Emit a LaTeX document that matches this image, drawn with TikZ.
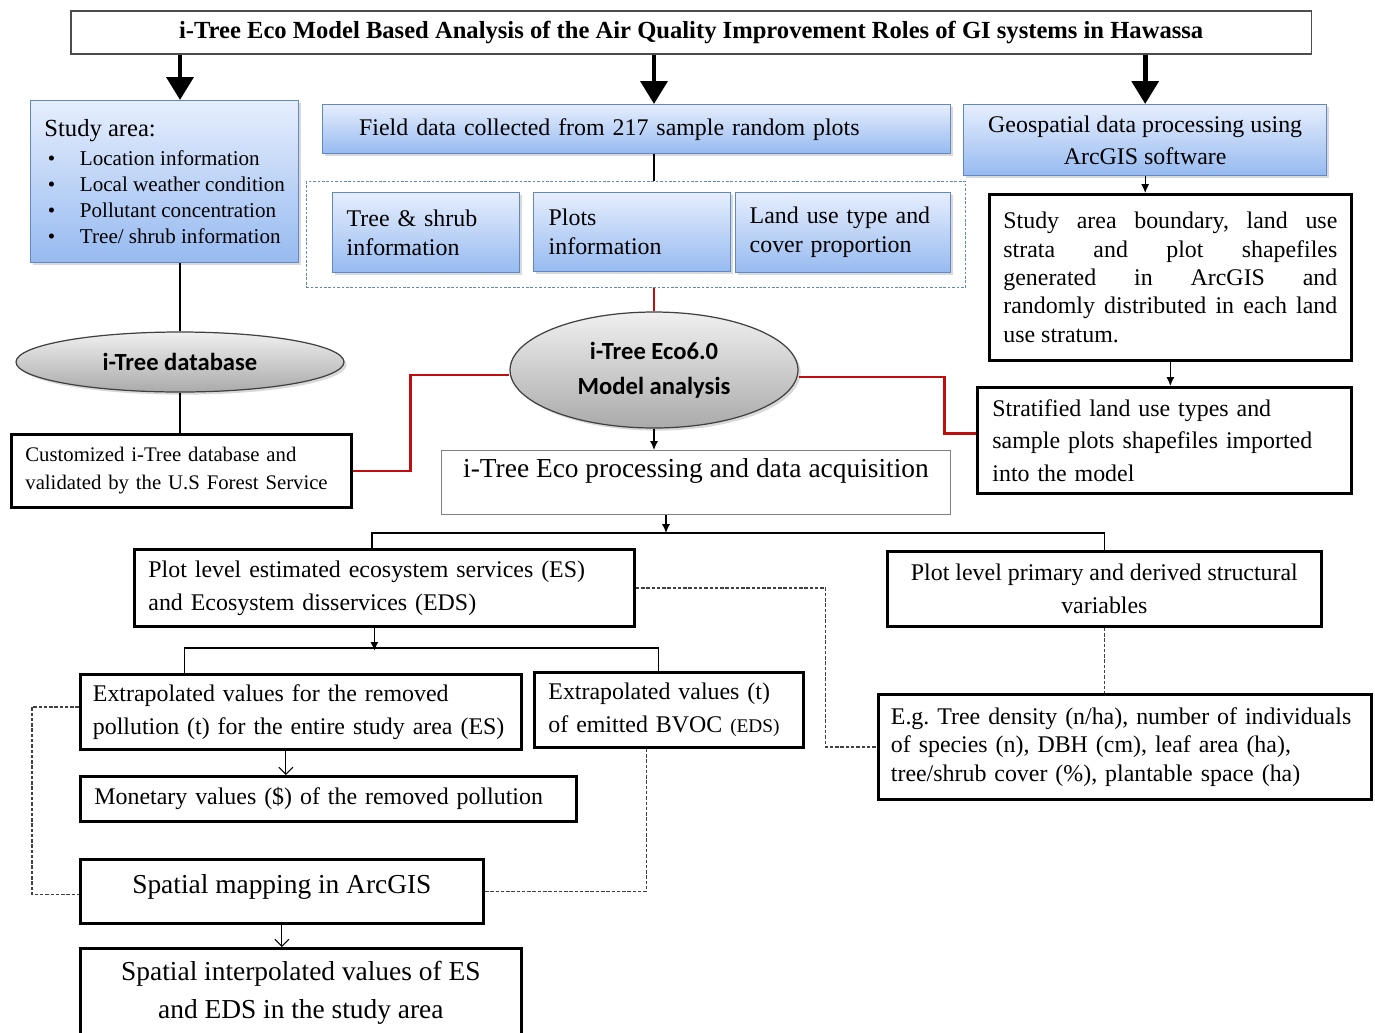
\documentclass[tikz,border=0pt]{standalone}
\usepackage{fontspec}
\setmainfont{Liberation Serif}
\newfontfamily\calibri{Carlito}
\usepackage{tikz}
\usetikzlibrary{arrows.meta,shapes.geometric,shadows}
\tikzset{>=latex}
\frenchspacing
\definecolor{bluetop}{RGB}{230,238,253}
\definecolor{bluebot}{RGB}{150,186,240}
\definecolor{blueedge}{RGB}{96,136,196}
\definecolor{greytop}{RGB}{240,240,240}
\definecolor{greybot}{RGB}{170,170,170}
\definecolor{linkred}{RGB}{190,14,14}
\tikzset{
  bluebox/.style={draw=blueedge, line width=0.8pt, top color=bluetop, bottom color=bluebot,
    drop shadow={shadow xshift=1.5pt, shadow yshift=-1.5pt, opacity=0.3}, anchor=north west},
  blackbox/.style={draw, line width=1.6pt, fill=white, anchor=north west},
  thinbox/.style={draw=black!50, line width=0.6pt, anchor=north west},
  greyell/.style={ellipse, draw=black!75, line width=0.7pt, top color=greytop, bottom color=greybot,
    drop shadow={shadow xshift=1.5pt, shadow yshift=-1.5pt, opacity=0.3},
    font=\calibri\bfseries\fontsize{14}{20}\selectfont, align=center},
  bigarrow/.style={line width=2.8pt, -{Triangle[length=13pt,width=15pt]}},
  thinarrow/.style={line width=0.7pt, -{Latex[length=5pt,width=4.5pt]}},
  openarrow/.style={line width=0.6pt, -{Straight Barb[length=4pt,width=8pt]}},
  redlink/.style={draw=linkred, line width=1.6pt},
  dashlink/.style={draw=black!75, line width=0.7pt, dash pattern=on 2pt off 1pt},
  txt/.style={font=\fontsize{13.6}{#1}\selectfont},
  txt/.default=16.5
}

\begin{document}
\begin{tikzpicture}[x=0.02cm, y=-0.02cm]
  \useasboundingbox (0,0) rectangle (1375,1032);

  % Nodes
  \node[draw=black!70, line width=0.9pt, anchor=north west, minimum width=24.82cm, minimum height=0.86cm,
    font=\bfseries\fontsize{14}{17}\selectfont] (title) at (70,10)
    {i-Tree Eco Model Based Analysis of the Air Quality Improvement Roles of GI systems in Hawassa};

  \node[bluebox, minimum width=5.36cm, minimum height=3.24cm, align=left,
    font=\fontsize{12}{14.8}\selectfont] (sa) at (30,100)
    {{\fontsize{14}{17}\selectfont Study area:}\\[2pt]
     \hspace*{2pt}\textbullet\hspace{14pt}Location information\\
     \hspace*{2pt}\textbullet\hspace{14pt}Local weather condition\\
     \hspace*{2pt}\textbullet\hspace{14pt}Pollutant concentration\\
     \hspace*{2pt}\textbullet\hspace{14pt}Tree/ shrub information};
  \node[bluebox, minimum width=12.56cm, minimum height=0.98cm, inner xsep=0.72cm, text width=11.1cm,
    align=left, txt] (field) at (322,104) {Field data collected from 217 sample random plots};
  \node[bluebox, minimum width=7.26cm, minimum height=1.42cm, align=center, txt=18] (geo) at (963,104)
    {Geospatial data processing using\\ArcGIS software};

  \node[draw=blueedge, line width=0.5pt, dash pattern=on 1.5pt off 1pt, anchor=north west,
    minimum width=13.18cm, minimum height=2.12cm] (cont) at (306,181) {};
  \node[bluebox, minimum width=3.74cm, minimum height=1.6cm, inner xsep=0.28cm, text width=3.18cm,
    align=left, txt] (tree) at (332,192) {Tree \& shrub\\information};
  \node[bluebox, minimum width=3.94cm, minimum height=1.58cm, inner xsep=0.3cm, text width=3.34cm,
    align=left, txt] (plots) at (533,192) {Plots\\information};
  \node[bluebox, minimum width=4.3cm, minimum height=1.6cm, inner xsep=0.28cm, text width=3.74cm,
    align=left, txt] (land) at (735,192) {Land use type and\\cover proportion};

  \node[greyell, minimum width=6.56cm, minimum height=1.2cm] (dbase) at (180,362) {i-Tree database};
  \node[greyell, minimum width=5.76cm, minimum height=2.32cm] (eco) at (654,370)
    {i-Tree Eco6.0\\Model analysis};

  \node[blackbox, minimum width=6.8cm, minimum height=1.46cm, inner xsep=0.28cm, text width=6.24cm,
    align=left, font=\fontsize{11.8}{16}\selectfont] (cust) at (10,433)
    {Customized i-Tree database and\\validated by the U.S Forest Service};

  \node[blackbox, minimum width=7.24cm, minimum height=3.32cm, inner xsep=0.28cm, text width=6.68cm,
    align=justify, txt=16.2] (bnd) at (988,193)
    {Study area boundary, land use\linebreak strata and plot shapefiles\linebreak
     generated in ArcGIS and\linebreak randomly distributed in each land\linebreak use stratum.};
  \node[blackbox, minimum width=7.48cm, minimum height=2.12cm, inner xsep=0.3cm, text width=6.88cm,
    align=left, txt=18.5] (strat) at (976,386)
    {Stratified land use types and\\sample plots shapefiles imported\\into the model};

  \node[thinbox, minimum width=10.18cm, minimum height=1.28cm, text depth=0.6cm,
    font=\fontsize{15.6}{19}\selectfont] (proc) at (441,450) {i-Tree Eco processing and data acquisition};

  \node[blackbox, minimum width=10cm, minimum height=1.54cm, inner xsep=0.28cm, text width=9.44cm,
    align=left, txt=18.8] (es) at (133,548)
    {Plot level estimated ecosystem services (ES)\\and Ecosystem disservices (EDS)};
  \node[blackbox, minimum width=8.68cm, minimum height=1.5cm, align=center, txt=18.8] (prim) at (886,550)
    {Plot level primary and derived structural\\variables};
  \node[blackbox, minimum width=9.86cm, minimum height=2.1cm, inner xsep=0.25cm, text width=9.36cm,
    align=left, txt=16.2] (eg) at (877,693)
    {E.g. Tree density (n/ha), number of individuals\\of species (n), DBH (cm), leaf area (ha),\\
     tree/shrub cover (\%), plantable space (ha)};

  \node[blackbox, minimum width=8.82cm, minimum height=1.5cm, inner xsep=0.25cm, text width=8.32cm,
    align=left, txt=18.8] (exes) at (79,673)
    {Extrapolated values for the removed\\pollution (t) for the entire study area (ES)};
  \node[blackbox, minimum width=5.38cm, minimum height=1.5cm, inner xsep=0.28cm, text width=4.82cm,
    align=left, txt=18.8] (exeds) at (533,671)
    {Extrapolated values (t)\\of emitted BVOC {\fontsize{11}{13}\selectfont (EDS)}};
  \node[blackbox, minimum width=9.92cm, minimum height=0.9cm, inner xsep=0.28cm, text width=9.36cm,
    align=left, txt] (mon) at (79,775) {Monetary values (\$) of the removed pollution};
  \node[blackbox, minimum width=8.06cm, minimum height=1.28cm, text depth=0.3cm,
    font=\fontsize{15.6}{19}\selectfont] (spmap) at (79,858) {Spatial mapping in ArcGIS};
  \node[blackbox, minimum width=8.82cm, minimum height=1.78cm, align=center,
    font=\fontsize{15.6}{21.6}\selectfont] (interp) at (79,947)
    {Spatial interpolated values of ES\\and EDS in the study area};

  % Edges
  \draw[bigarrow] (title.south -| dbase) -- (dbase |- sa.north);
  \draw[bigarrow] (title.south -| eco) -- (eco |- field.north);
  \draw[bigarrow] (title.south -| geo) -- (geo.north);

  \draw[line width=1.4pt] (eco |- field.south) -- (eco |- cont.north);
  \draw[redlink] (eco |- cont.south) -- (eco.north);
  \draw[line width=1pt] (dbase |- sa.south) -- (dbase.north);
  \draw[line width=1pt] (dbase.south) -- (dbase.south |- cust.north);
  \draw[redlink] (cust.east) -- ++(58,0) |- ([yshift=-0.1cm]eco.west);
  \draw[redlink] ([yshift=-0.14cm]eco.east) -- ++(146,0) |- ([yshift=0.14cm]strat.west);

  \draw[thinarrow] (geo.south) -- (geo.south |- bnd.north);
  \draw[thinarrow] (bnd.south) -- (bnd.south |- strat.north);
  \draw[thinarrow] (eco.south) -- (eco.south |- proc.north);

  \coordinate (split) at ([yshift=0.3cm]es.north);
  \draw[thinarrow] ([xshift=-0.6cm]proc.south) -- ([xshift=-0.6cm]proc.south |- split);
  \draw[line width=1pt] ([xshift=-0.24cm]es.north) -- ([xshift=-0.24cm]split) -| (prim.north);

  \draw[thinarrow] ([xshift=-0.2cm]es.south) -- ++(0,23);
  \draw[line width=0.7pt] ([xshift=-2.33cm]exes.north) -- ++(0,-25) -| ([xshift=-0.21cm]exeds.north);
  \draw[openarrow] ([xshift=-0.3cm]exes.south) -- ([xshift=-0.3cm]exes.south |- mon.north);
  \draw[openarrow] (spmap.south) -- (spmap.south |- interp.north);

  \draw[dashlink] (es.east) -- ++(190,0) |- (eg.west);
  \draw[dashlink] (prim.south) -- (prim.south |- eg.north);
  \draw[dashlink] ([yshift=0.1cm]exes.west) -- ++(-47,0) |- ([yshift=-0.06cm]spmap.west);
  \draw[dashlink] ([xshift=-0.45cm]exeds.south) |- (spmap.east);

\end{tikzpicture}
\end{document}
